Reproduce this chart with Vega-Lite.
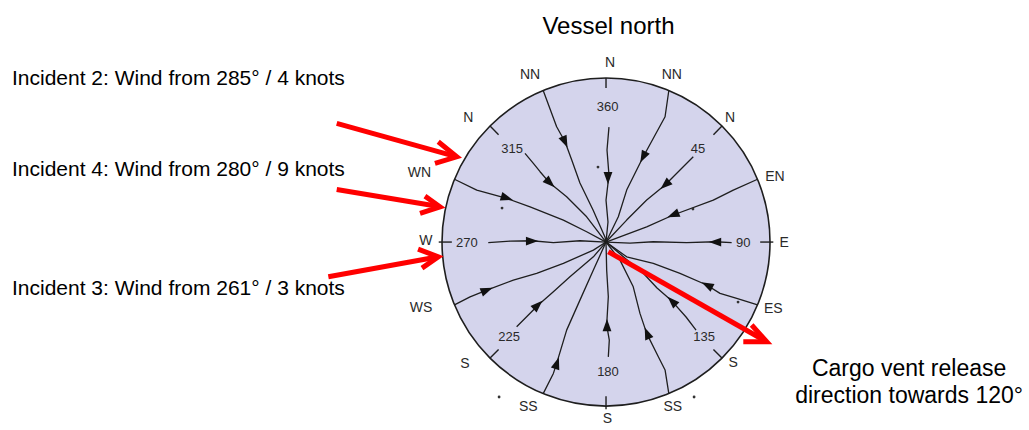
{
  "$schema": "https://vega.github.io/schema/vega-lite/v6.json",
  "width": 1029,
  "height": 430,
  "padding": 0,
  "autosize": {"type": "fit", "contains": "padding"},
  "background": "#ffffff",
  "config": {"view": {"stroke": null}},
  "datasets": {
    "center": [{"x": 0, "y": 0}],
    "lines": [
      {"d":"N360","i":0,"x":1.8,"y":70.1},{"d":"N360","i":1,"x":0.6,"y":56.1},{"d":"N360","i":2,"x":1.8,"y":40.9},{"d":"N360","i":3,"x":0,"y":25.6},{"d":"N360","i":4,"x":1.2,"y":12.2},{"d":"N360","i":5,"x":0,"y":0},
      {"d":"NN337","i":0,"x":-38.3,"y":92.4},{"d":"NN337","i":1,"x":-30.1,"y":70.3},{"d":"NN337","i":2,"x":-25.0,"y":61.2},{"d":"NN337","i":3,"x":-20.9,"y":50.0},{"d":"NN337","i":4,"x":-15.9,"y":36.0},{"d":"NN337","i":5,"x":-7.9,"y":19.5},{"d":"NN337","i":6,"x":-0.6,"y":3.0},{"d":"NN337","i":7,"x":0,"y":0},
      {"d":"NN22","i":0,"x":38.3,"y":92.4},{"d":"NN22","i":1,"x":36.0,"y":76.4},{"d":"NN22","i":2,"x":22.7,"y":52.0},{"d":"NN22","i":3,"x":12.6,"y":31.7},{"d":"NN22","i":4,"x":7.5,"y":15.4},{"d":"NN22","i":5,"x":0,"y":0},
      {"d":"L315","i":0,"x":-49.4,"y":54.1},{"d":"L315","i":1,"x":-44.3,"y":48.0},{"d":"L315","i":2,"x":-40.2,"y":42.9},{"d":"L315","i":3,"x":-34.1,"y":35.8},{"d":"L315","i":4,"x":-24.0,"y":27.6},{"d":"L315","i":5,"x":-11.8,"y":15.4},{"d":"L315","i":6,"x":0,"y":0},
      {"d":"L45","i":0,"x":53.2,"y":52.0},{"d":"L45","i":1,"x":47.1,"y":45.9},{"d":"L45","i":2,"x":36.0,"y":34.8},{"d":"L45","i":3,"x":24.8,"y":25.6},{"d":"L45","i":4,"x":12.6,"y":13.4},{"d":"L45","i":5,"x":0,"y":0},
      {"d":"WN292","i":0,"x":-92.4,"y":38.3},{"d":"WN292","i":1,"x":-78.8,"y":31.7},{"d":"WN292","i":2,"x":-60.5,"y":26.6},{"d":"WN292","i":3,"x":-46.3,"y":21.5},{"d":"WN292","i":4,"x":-26.0,"y":13.4},{"d":"WN292","i":5,"x":-11.8,"y":6.3},{"d":"WN292","i":6,"x":0,"y":0},
      {"d":"EN67","i":0,"x":92.4,"y":38.3},{"d":"EN67","i":1,"x":77.6,"y":31.7},{"d":"EN67","i":2,"x":65.4,"y":25.6},{"d":"EN67","i":3,"x":41.0,"y":16.5},{"d":"EN67","i":4,"x":24.8,"y":9.3},{"d":"EN67","i":5,"x":8.5,"y":3.2},{"d":"EN67","i":6,"x":0,"y":0},
      {"d":"L270","i":0,"x":-71.8,"y":-0.4},{"d":"L270","i":1,"x":-58.5,"y":0.6},{"d":"L270","i":2,"x":-45.3,"y":0.8},{"d":"L270","i":3,"x":-32.1,"y":-0.4},{"d":"L270","i":4,"x":-15.9,"y":0.8},{"d":"L270","i":5,"x":0,"y":0},
      {"d":"L90","i":0,"x":76.6,"y":-0.4},{"d":"L90","i":1,"x":66.5,"y":0.2},{"d":"L90","i":2,"x":49.2,"y":-0.4},{"d":"L90","i":3,"x":28.8,"y":0.2},{"d":"L90","i":4,"x":14.6,"y":-0.6},{"d":"L90","i":5,"x":0,"y":0},
      {"d":"WS247","i":0,"x":-92.4,"y":-38.3},{"d":"WS247","i":1,"x":-82.9,"y":-33.4},{"d":"WS247","i":2,"x":-72.7,"y":-29.3},{"d":"WS247","i":3,"x":-56.5,"y":-23.2},{"d":"WS247","i":4,"x":-42.3,"y":-19.1},{"d":"WS247","i":5,"x":-26.0,"y":-13.0},{"d":"WS247","i":6,"x":-7.7,"y":-4.9},{"d":"WS247","i":7,"x":0,"y":0},
      {"d":"L225","i":0,"x":-54.5,"y":-51.6},{"d":"L225","i":1,"x":-48.4,"y":-45.5},{"d":"L225","i":2,"x":-41.3,"y":-38.4},{"d":"L225","i":3,"x":-32.1,"y":-30.3},{"d":"L225","i":4,"x":-22.0,"y":-21.2},{"d":"L225","i":5,"x":-7.7,"y":-9.0},{"d":"L225","i":6,"x":0,"y":0},
      {"d":"SS202","i":0,"x":-38.3,"y":-92.4},{"d":"SS202","i":1,"x":-32.1,"y":-80.1},{"d":"SS202","i":2,"x":-30.1,"y":-74.0},{"d":"SS202","i":3,"x":-24.0,"y":-53.7},{"d":"SS202","i":4,"x":-15.9,"y":-35.4},{"d":"SS202","i":5,"x":-7.7,"y":-17.1},{"d":"SS202","i":6,"x":0,"y":0},
      {"d":"L180","i":0,"x":1.4,"y":-70.0},{"d":"L180","i":1,"x":2.0,"y":-59.8},{"d":"L180","i":2,"x":0.4,"y":-50.6},{"d":"L180","i":3,"x":1.4,"y":-33.4},{"d":"L180","i":4,"x":0.4,"y":-17.1},{"d":"L180","i":5,"x":0,"y":0},
      {"d":"SS157","i":0,"x":38.3,"y":-92.4},{"d":"SS157","i":1,"x":36.0,"y":-78.0},{"d":"SS157","i":2,"x":31.9,"y":-69.9},{"d":"SS157","i":3,"x":24.8,"y":-55.7},{"d":"SS157","i":4,"x":20.7,"y":-43.5},{"d":"SS157","i":5,"x":16.6,"y":-27.3},{"d":"SS157","i":6,"x":8.5,"y":-11.0},{"d":"SS157","i":7,"x":0,"y":0},
      {"d":"L135","i":0,"x":54.9,"y":-53.7},{"d":"L135","i":1,"x":48.8,"y":-45.7},{"d":"L135","i":2,"x":40.2,"y":-36.0},{"d":"L135","i":3,"x":31.1,"y":-28.0},{"d":"L135","i":4,"x":22.6,"y":-18.9},{"d":"L135","i":5,"x":11.6,"y":-9.8},{"d":"L135","i":6,"x":0,"y":0},
      {"d":"ES112","i":0,"x":92.4,"y":-38.3},{"d":"ES112","i":1,"x":79.7,"y":-34.3},{"d":"ES112","i":2,"x":69.5,"y":-31.3},{"d":"ES112","i":3,"x":61.4,"y":-26.2},{"d":"ES112","i":4,"x":45.1,"y":-19.1},{"d":"ES112","i":5,"x":28.8,"y":-13.0},{"d":"ES112","i":6,"x":12.6,"y":-9.0},{"d":"ES112","i":7,"x":0,"y":0}
    ],
    "heads": [
      {"x":1.2,"y":39.0,"heading":180},{"x":-25.0,"y":61.0,"heading":156},{"x":22.6,"y":51.8,"heading":207},
      {"x":-34.1,"y":36.0,"heading":133},{"x":36.0,"y":34.8,"heading":228},{"x":-60.4,"y":26.8,"heading":107},
      {"x":40.9,"y":16.5,"heading":248},{"x":-45.1,"y":0.6,"heading":90},{"x":66.5,"y":0,"heading":270},
      {"x":-72.6,"y":-29.3,"heading":68},{"x":-41.5,"y":-38.4,"heading":46},{"x":-29.9,"y":-73.8,"heading":18},
      {"x":0.6,"y":-50.6,"heading":0},{"x":25.0,"y":-55.5,"heading":338},{"x":40.2,"y":-36.0,"heading":315},
      {"x":61.6,"y":-26.2,"heading":297}
    ],
    "ticks": [
      {"x":0,"y":100,"x2":0,"y2":94},{"x":102,"y":0,"x2":94,"y2":0},{"x":0,"y":-102,"x2":0,"y2":-94},{"x":-102,"y":0,"x2":-94,"y2":0},
      {"x":70.7,"y":70.7,"x2":65.5,"y2":65.5},{"x":70.7,"y":-70.7,"x2":65.5,"y2":-65.5},{"x":-70.7,"y":-70.7,"x2":-65.5,"y2":-65.5},{"x":-70.7,"y":70.7,"x2":-65.5,"y2":65.5}
    ],
    "dots": [
      {"x":-4.9,"y":45.7},{"x":-63.4,"y":20.7},{"x":53.0,"y":20.1},{"x":80.5,"y":-36.6},{"x":-65.2,"y":-94.5},{"x":53.7,"y":-94.5}
    ],
    "letters": [
      {"t":"N","x":2.4,"y":109.1},{"t":"NN","x":-46.3,"y":101.8},{"t":"NN","x":40.1,"y":101.8},
      {"t":"N","x":-84.0,"y":75.8},{"t":"N","x":75.6,"y":75.8},{"t":"WN","x":-113.8,"y":41.9},
      {"t":"EN","x":103.0,"y":39.8},{"t":"W","x":-109.8,"y":0.6},{"t":"E","x":108.7,"y":-0.4},
      {"t":"WS","x":-112.8,"y":-40.2},{"t":"ES","x":102.0,"y":-41.0},{"t":"S","x":-86.0,"y":-74.6},
      {"t":"S","x":77.6,"y":-74.0},{"t":"SS","x":-47.4,"y":-100.4},{"t":"SS","x":40.7,"y":-100.4},
      {"t":"S","x":0.8,"y":-107.9}
    ],
    "numbers": [
      {"t":"360","x":1.0,"y":82.3},{"t":"315","x":-57.3,"y":56.7},{"t":"45","x":56.1,"y":56.7},
      {"t":"270","x":-84.9,"y":-0.8},{"t":"90","x":83.7,"y":-0.8},{"t":"225","x":-59.1,"y":-57.9},
      {"t":"135","x":59.8,"y":-57.9},{"t":"180","x":1.2,"y":-79.3}
    ],
    "red": [
      {"g":"a1s","i":0,"x":-164.2,"y":72.4},{"g":"a1s","i":1,"x":-92.5,"y":52.4},
      {"g":"a1h","i":0,"x":-102.3,"y":61.2},{"g":"a1h","i":1,"x":-91.0,"y":52.0},{"g":"a1h","i":2,"x":-104.3,"y":48.0},
      {"g":"a2s","i":0,"x":-164.2,"y":32.1},{"g":"a2s","i":1,"x":-102.8,"y":21.8},
      {"g":"a2h","i":0,"x":-110.4,"y":28.0},{"g":"a2h","i":1,"x":-101.2,"y":21.5},{"g":"a2h","i":2,"x":-113.4,"y":17.5},
      {"g":"a3s","i":0,"x":-169.3,"y":-21.2},{"g":"a3s","i":1,"x":-103.8,"y":-9.3},
      {"g":"a3h","i":0,"x":-114.6,"y":-4.3},{"g":"a3h","i":1,"x":-102.3,"y":-9.0},{"g":"a3h","i":2,"x":-112.2,"y":-15.9},
      {"g":"a4s","i":0,"x":1.4,"y":-5.9},{"g":"a4s","i":1,"x":96.6,"y":-60.0},
      {"g":"a4h","i":0,"x":88.8,"y":-50.6},{"g":"a4h","i":1,"x":98.0,"y":-60.8},{"g":"a4h","i":2,"x":83.7,"y":-60.8}
    ],
    "title": [{"t":"Vessel north","x":1.5,"y":126.8}],
    "incidents": [
      {"t":"Incident 2: Wind from 285° / 4 knots","x":-362.2,"y":95.7},
      {"t":"Incident 4: Wind from 280° / 9 knots","x":-362.2,"y":40.2},
      {"t":"Incident 3: Wind from 261° / 3 knots","x":-362.2,"y":-32.3}
    ],
    "cargo": [
      {"t":"Cargo vent release","x":184.8,"y":-81.7},
      {"t":"direction towards 120°","x":184.8,"y":-98.2}
    ]
  },
  "encoding": {
    "x": {"field": "x", "type": "quantitative", "scale": {"domain": [-369.5, 257.9], "nice": false, "zero": false}, "axis": null},
    "y": {"field": "y", "type": "quantitative", "scale": {"domain": [-114.6, 147.6], "nice": false, "zero": false}, "axis": null}
  },
  "layer": [
    {
      "data": {"name": "center"},
      "mark": {"type": "point", "shape": "circle", "filled": true, "size": 107584, "fill": "#d4d4ec", "stroke": "#1e1e1e", "strokeWidth": 1.6, "opacity": 1}
    },
    {
      "data": {"name": "ticks"},
      "mark": {"type": "rule", "stroke": "#1e1e1e", "strokeWidth": 1.4},
      "encoding": {"x2": {"field": "x2"}, "y2": {"field": "y2"}}
    },
    {
      "data": {"name": "lines"},
      "mark": {"type": "line", "stroke": "#1e1e1e", "strokeWidth": 1.3, "strokeJoin": "round"},
      "encoding": {"detail": {"field": "d"}, "order": {"field": "i", "type": "quantitative"}}
    },
    {
      "data": {"name": "heads"},
      "mark": {"type": "point", "shape": "M0,-1L0.72,1L-0.72,1Z", "filled": true, "size": 150, "fill": "#111111", "opacity": 1},
      "encoding": {"angle": {"field": "heading", "type": "quantitative", "scale": null}}
    },
    {
      "data": {"name": "dots"},
      "mark": {"type": "point", "shape": "circle", "filled": true, "size": 8, "fill": "#333333", "opacity": 1}
    },
    {
      "data": {"name": "letters"},
      "mark": {"type": "text", "font": "Liberation Sans", "fontSize": 14, "fill": "#2a2a2a", "align": "center", "baseline": "middle"},
      "encoding": {"text": {"field": "t"}}
    },
    {
      "data": {"name": "numbers"},
      "mark": {"type": "text", "font": "Liberation Sans", "fontSize": 13, "fill": "#2a2a2a", "align": "center", "baseline": "middle"},
      "encoding": {"text": {"field": "t"}}
    },
    {
      "data": {"name": "red"},
      "mark": {"type": "line", "stroke": "#ff0000", "strokeWidth": 5, "strokeJoin": "miter", "strokeCap": "butt"},
      "encoding": {"detail": {"field": "g"}, "order": {"field": "i", "type": "quantitative"}}
    },
    {
      "data": {"name": "title"},
      "mark": {"type": "text", "font": "Liberation Sans", "fontSize": 24, "fill": "#000000", "align": "center", "baseline": "alphabetic"},
      "encoding": {"text": {"field": "t"}}
    },
    {
      "data": {"name": "incidents"},
      "mark": {"type": "text", "font": "Liberation Sans", "fontSize": 21, "fill": "#000000", "align": "left", "baseline": "alphabetic"},
      "encoding": {"text": {"field": "t"}}
    },
    {
      "data": {"name": "cargo"},
      "mark": {"type": "text", "font": "Liberation Sans", "fontSize": 23, "fill": "#000000", "align": "center", "baseline": "alphabetic"},
      "encoding": {"text": {"field": "t"}}
    }
  ]
}
